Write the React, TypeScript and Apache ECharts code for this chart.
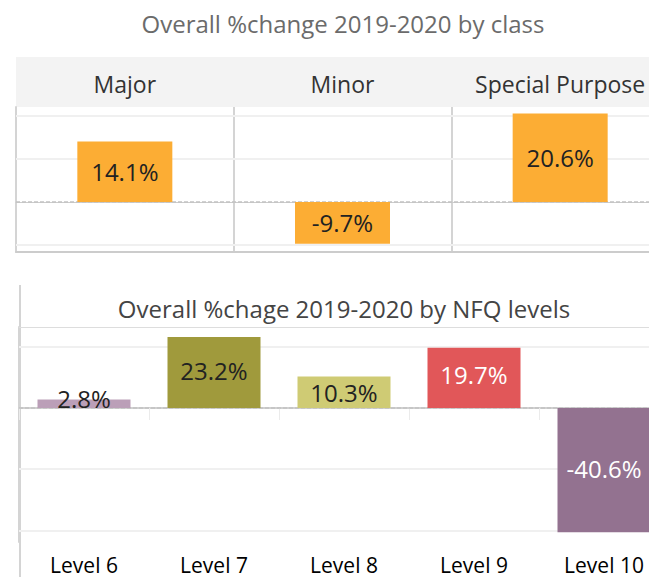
import React, { useEffect, useRef } from "react";
import * as echarts from "echarts";

const classes = ["Major", "Minor", "Special Purpose"];
const classChange = [14.1, -9.7, 20.6];
const classGridValues = [20, 10, -10];

const levels = ["Level 6", "Level 7", "Level 8", "Level 9", "Level 10"];
const levelChange = [2.8, 23.2, 10.3, 19.7, -40.6];
const levelGridValues = [20, -20, -40];

const levelColors = ["#bb9fb8", "#a09a3c", "#cfcb74", "#e15759", "#937290"];
const levelLabelColors = ["#222", "#222", "#222", "#fff", "#fff"];
const levelLabelOffsets = [[0, -5], [0, -2], [0, 0], [0, -3], [0, -2]];
const classColor = "#fcad34";

const FONT = "'Open Sans', sans-serif";

function gridLineSeries(xi: number, yi: number, values: number[]) {
  return {
    type: "line",
    xAxisIndex: xi,
    yAxisIndex: yi,
    data: [],
    z: 1,
    silent: true,
    markLine: {
      z: 1,
      silent: true,
      symbol: "none",
      label: { show: false },
      data: [
        ...values.map((v) => ({ yAxis: v, lineStyle: { color: "#f0f0f0", width: 2, type: "solid" } })),
        { yAxis: 0, lineStyle: { color: "#c2c2c2", width: 1.5, type: [4, 2] } },
      ],
    },
  };
}

export default function App() {
  const ref = useRef<HTMLDivElement>(null);
  useEffect(() => {
    if (!ref.current) return;
    const chart = echarts.init(ref.current, undefined, { renderer: "svg" });
    chart.setOption({
      animation: false,
      textStyle: { fontFamily: FONT },
      graphic: [
        { type: "rect", z: -10, shape: { x: 16, y: 57, width: 660, height: 50 }, style: { fill: "#f3f3f3" } },
        { type: "line", shape: { x1: 20, y1: 285, x2: 20, y2: 577 }, style: { stroke: "#d4d4d4", lineWidth: 2 } },
        {
          type: "text",
          x: 343,
          y: 23,
          style: { text: "Overall %change 2019-2020 by class", fill: "#6b6b6b", fontSize: 24, fontFamily: FONT, align: "center", verticalAlign: "middle" },
        },
        {
          type: "text",
          x: 344,
          y: 308,
          style: { text: "Overall %chage 2019-2020 by NFQ levels", fill: "#444", fontSize: 24, fontFamily: FONT, align: "center", verticalAlign: "middle" },
        },
      ],
      grid: [
        { left: 16, width: 653, top: 107, height: 145, outerBoundsMode: "none", containLabel: false },
        { left: 19, width: 650, top: 327, height: 215, outerBoundsMode: "none", containLabel: false },
      ],
      xAxis: [
        {
          type: "category",
          gridIndex: 0,
          position: "top",
          data: classes,
          axisLine: { show: true, lineStyle: { color: "#cccccc", width: 1 } },
          axisTick: { show: true, length: 50, alignWithLabel: false, lineStyle: { color: "#d4d4d4", width: 2 } },
          axisLabel: { fontSize: 23, color: "#333", margin: 12, interval: 0, hideOverlap: false },
          splitLine: { show: true, lineStyle: { color: "#d4d4d4", width: 2 } },
        },
        {
          type: "category",
          gridIndex: 0,
          position: "bottom",
          data: classes,
          axisLine: { show: true, lineStyle: { color: "#cccccc", width: 2 } },
          axisTick: { show: false },
          axisLabel: { show: false },
        },
        {
          type: "category",
          gridIndex: 1,
          position: "bottom",
          data: levels,
          axisLine: { show: true, lineStyle: { color: "#d0d0d0", width: 2 } },
          axisTick: { show: true, length: 12, alignWithLabel: false, lineStyle: { color: "#ebebeb", width: 1 } },
          axisLabel: { fontSize: 21, color: "#000", margin: 12, interval: 0, hideOverlap: false },
        },
        {
          type: "category",
          gridIndex: 1,
          position: "top",
          data: levels,
          axisLine: { show: true, lineStyle: { color: "#dddddd", width: 1 } },
          axisTick: { show: false },
          axisLabel: { show: false },
        },
      ],
      yAxis: [
        {
          type: "value",
          gridIndex: 0,
          min: -11.6,
          max: 22.1,
          axisLine: { show: true, lineStyle: { color: "#d4d4d4", width: 2 } },
          axisTick: { show: false },
          axisLabel: { show: false },
          splitLine: { show: false },
        },
        {
          type: "value",
          gridIndex: 1,
          min: -43.8,
          max: 26.5,
          axisLine: { show: true, lineStyle: { color: "#d4d4d4", width: 2 } },
          axisTick: { show: false },
          axisLabel: { show: false },
          splitLine: { show: false },
        },
      ],
      series: [
        gridLineSeries(0, 0, classGridValues),
        gridLineSeries(2, 1, levelGridValues),
        {
          type: "bar",
          xAxisIndex: 0,
          yAxisIndex: 0,
          z: 3,
          barWidth: 95,
          data: classChange,
          itemStyle: { color: classColor },
          label: { show: true, position: "inside", formatter: "{c}%", fontSize: 24, color: "#222", fontFamily: FONT },
        },
        {
          type: "bar",
          xAxisIndex: 2,
          yAxisIndex: 1,
          z: 3,
          barWidth: 93,
          data: levelChange.map((v, i) => ({
            value: v,
            itemStyle: { color: levelColors[i] },
            label: { color: levelLabelColors[i], offset: levelLabelOffsets[i] },
          })),
          label: { show: true, position: "inside", formatter: "{c}%", fontSize: 24, fontFamily: FONT },
        },
      ],
    });
    return () => chart.dispose();
  }, []);
  return <div ref={ref} style={{ position: "fixed", left: 0, top: 0, width: 649, height: 577, background: "#fff" }} />;
}
